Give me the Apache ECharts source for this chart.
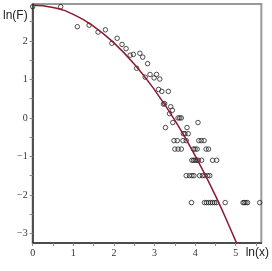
<!DOCTYPE html>
<html><head><meta charset="utf-8">
<script src="https://cdn.jsdelivr.net/npm/echarts@6/dist/echarts.min.js"></script>
<style>html,body{margin:0;padding:0;background:#fff}#c{width:272px;height:271px}</style>
</head><body><div id="c"></div>
<script>
// observed points: ln(x) and ln(F)
const obsX = [0, 0.69, 1.10, 1.39, 1.61, 1.79, 1.95, 2.08, 2.20, 2.30, 2.40, 2.48, 2.56, 2.64, 2.71, 2.83, 2.77, 2.89, 2.99, 3.05, 3.13, 3.10, 3.18, 3.34, 3.22, 3.25, 3.40, 3.44, 3.37,
  3.58, 3.62, 3.66, 3.45, 4.07, 3.27, 3.80, 3.71, 3.75, 3.83,
  3.48, 3.56, 3.70, 3.78, 4.09, 4.15, 4.22,
  3.50, 3.58, 3.66, 3.96, 4.00, 4.05, 4.27, 4.33,
  3.92, 3.96, 4.00, 4.04, 4.08, 4.16, 4.43, 4.53,
  3.78, 3.86, 3.92, 3.97, 4.11, 4.18, 4.24, 4.31, 4.36,
  3.91, 4.23, 4.28, 4.33, 4.38, 4.43, 4.48, 4.53, 4.74, 5.18, 5.21, 5.25, 5.29, 5.59];
const obsY = [2.89, 2.89, 2.37, 2.41, 2.23, 2.29, 1.94, 2.07, 1.91, 1.80, 1.63, 1.65, 1.29, 1.68, 1.58, 1.41, 1.06, 1.13, 1.04, 1.13, 1.01, 0.74, 0.69, 0.69, 0.36, 0.37, 0.29, 0.20, 0.11,
  0, 0, 0, -0.12, -0.12, -0.25, -0.25, -0.41, -0.41, -0.41,
  -0.59, -0.59, -0.59, -0.59, -0.59, -0.59, -0.59,
  -0.81, -0.81, -0.81, -0.81, -0.81, -0.81, -0.81, -0.81,
  -1.10, -1.10, -1.10, -1.10, -1.10, -1.10, -1.10, -1.10,
  -1.50, -1.50, -1.50, -1.50, -1.50, -1.50, -1.50, -1.50, -1.50,
  -2.20, -2.20, -2.20, -2.20, -2.20, -2.20, -2.20, -2.20, -2.20, -2.20, -2.20, -2.20, -2.20, -2.20];
// fitted curve
const fitX = [0, 0.5, 1, 1.5, 2, 2.5, 3, 3.5, 4, 4.5, 5, 5.03];
const fitY = [2.93, 2.87, 2.69, 2.38, 1.95, 1.40, 0.73, -0.06, -0.98, -2.02, -3.20, -3.27];
const xTicks = [0, 1, 2, 3, 4, 5];
const yTicks = [-3, -2, -1, 0, 1, 2];
const xMinor = [0, 0.5, 1, 1.5, 2, 2.5, 3, 3.5, 4, 4.5, 5, 5.5];
const yMinor = [-3, -2.5, -2, -1.5, -1, -0.5, 0, 0.5, 1, 1.5, 2, 2.5];

const chart = echarts.init(document.getElementById('c'), null, {renderer: 'canvas'});
const lblFont = {fontFamily: 'Liberation Serif', fontSize: 10, color: '#333'};
const fmt = v => String(v).replace('-', '\u2212');
chart.setOption({
  animation: false,
  grid: {left: 28, right: 8, top: 4, bottom: 28, show: true, borderColor: '#999', borderWidth: 2},
  xAxis: {
    type: 'value', min: 0, max: 5.63,
    name: 'ln(x)', nameLocation: 'end', nameGap: -4,
    nameTextStyle: {fontFamily: 'Liberation Sans', fontSize: 12, color: '#222', align: 'center', verticalAlign: 'top', padding: [4, 0, 0, 0]},
    axisLine: {onZero: false, lineStyle: {color: '#333', width: 1.5}},
    axisTick: {show: true, length: 3, customValues: xMinor, lineStyle: {color: '#888'}},
    axisLabel: Object.assign({customValues: xTicks, margin: 5, formatter: fmt}, lblFont),
    splitLine: {show: false}
  },
  yAxis: {
    type: 'value', min: -3.25, max: 2.96,
    name: 'ln(F)', nameLocation: 'end', nameGap: 0,
    nameTextStyle: {fontFamily: 'Liberation Sans', fontSize: 12, color: '#222', align: 'right', verticalAlign: 'top', padding: [6, 5, 0, 0]},
    axisLine: {onZero: false, lineStyle: {color: '#333', width: 1.5}},
    axisTick: {show: true, length: 3, customValues: yMinor, lineStyle: {color: '#888'}},
    axisLabel: Object.assign({customValues: yTicks, margin: 5, formatter: fmt}, lblFont),
    splitLine: {show: false}
  },
  series: [
    {
      type: 'scatter', symbol: 'circle', symbolSize: 4.5,
      itemStyle: {color: 'rgba(255,255,255,0)', borderColor: '#222', borderWidth: 1},
      data: obsX.map((x, i) => [x, obsY[i]]), z: 2
    },
    {
      type: 'line', smooth: true, showSymbol: false, clip: true,
      lineStyle: {color: '#8B1A2E', width: 1.5},
      data: fitX.map((x, i) => [x, fitY[i]]), z: 3
    }
  ]
});
</script></body></html>
